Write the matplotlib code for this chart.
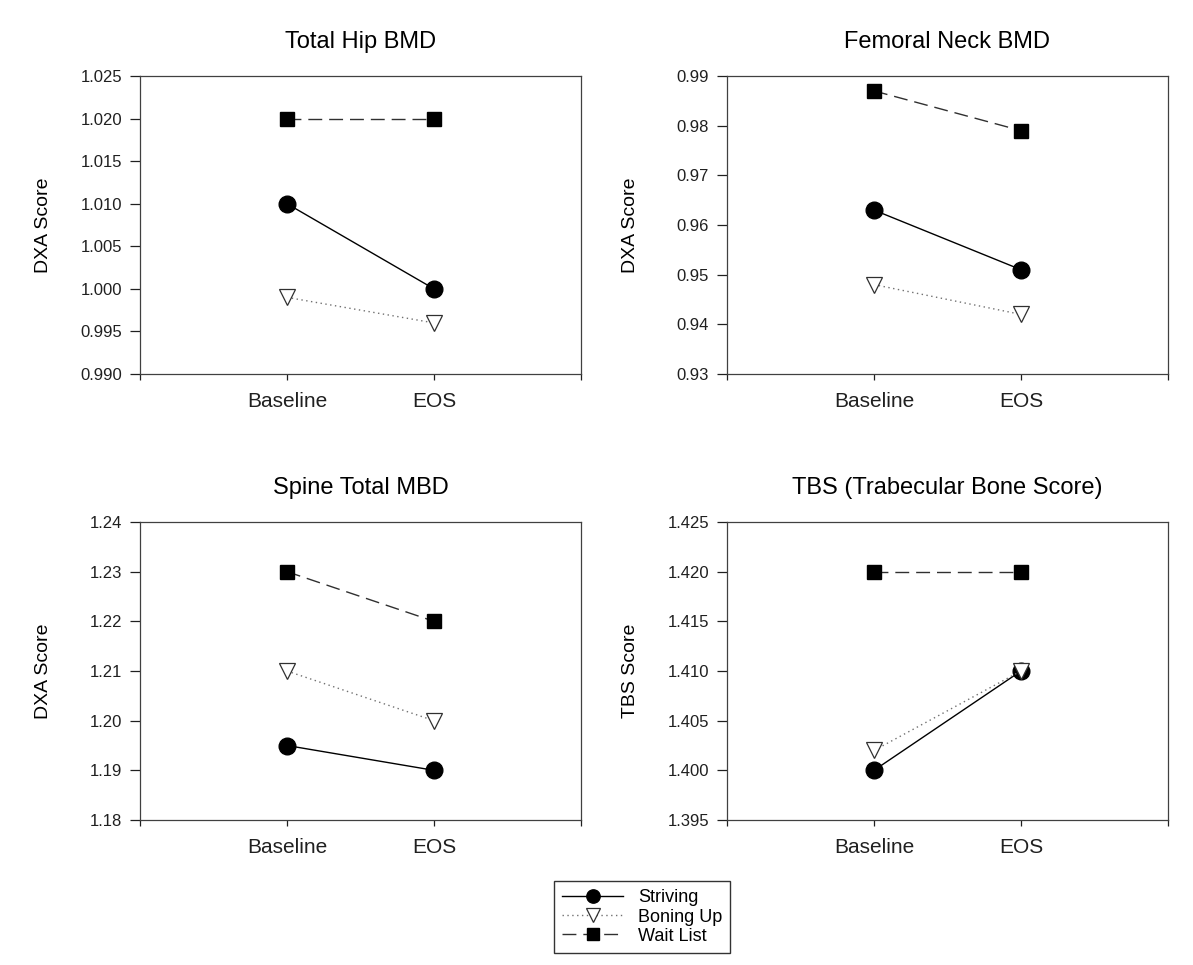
import matplotlib
matplotlib.use("Agg")
import matplotlib.pyplot as plt
from matplotlib.ticker import FixedLocator

plt.rcParams['font.family'] = ['Liberation Sans', 'DejaVu Sans']

timepoints = ["Baseline", "EOS"]
groups = ["Striving", "Boning Up", "Wait List"]

titles = ["Total Hip BMD", "Femoral Neck BMD", "Spine Total MBD", "TBS (Trabecular Bone Score)"]
ylabels = ["DXA Score", "DXA Score", "DXA Score", "TBS Score"]

striving = [[1.010, 1.000], [0.963, 0.951], [1.195, 1.190], [1.400, 1.410]]
boning_up = [[0.999, 0.996], [0.948, 0.942], [1.210, 1.200], [1.402, 1.410]]
wait_list = [[1.020, 1.020], [0.987, 0.979], [1.230, 1.220], [1.420, 1.420]]

yticks = [
    [0.990, 0.995, 1.000, 1.005, 1.010, 1.015, 1.020, 1.025],
    [0.93, 0.94, 0.95, 0.96, 0.97, 0.98, 0.99],
    [1.18, 1.19, 1.20, 1.21, 1.22, 1.23, 1.24],
    [1.395, 1.400, 1.405, 1.410, 1.415, 1.420, 1.425],
]
ytick_fmt = ["%.3f", "%.2f", "%.2f", "%.3f"]

fig = plt.figure(figsize=(11.93, 9.65), dpi=100)
W, H = 1193, 965
lefts = [140, 727]
tops = [76, 522]
aw, ah = 441, 298

styles = {
    "Striving": dict(color="black", ls="-", lw=1.0, marker="o", ms=12,
                     mfc="black", mec="black"),
    "Boning Up": dict(color="#707070", ls=(0, (1, 2.5)), lw=1.0, marker="v", ms=12,
                      mfc="white", mec="#303030", mew=0.9),
    "Wait List": dict(color="#303030", ls=(0, (10, 5)), lw=1.0, marker="s", ms=10.5,
                      mfc="black", mec="black"),
}

x = [1, 2]
axes = []
for i in range(4):
    r, c = divmod(i, 2)
    l = lefts[c]
    t = tops[r]
    ax = fig.add_axes([l / W, 1 - (t + ah) / H, aw / W, ah / H])
    axes.append(ax)
    series = {"Striving": striving[i], "Boning Up": boning_up[i], "Wait List": wait_list[i]}
    order_draw = ["Wait List", "Boning Up", "Striving"] if i != 3 else ["Wait List", "Striving", "Boning Up"]
    for g in order_draw:
        ax.plot(x, series[g], label=g, **styles[g])
    ax.set_xlim(0, 3)
    ax.set_ylim(yticks[i][0], yticks[i][-1])
    ax.yaxis.set_major_locator(FixedLocator(yticks[i]))
    ax.set_yticklabels([ytick_fmt[i] % v for v in yticks[i]])
    ax.set_xticks([0, 1, 2, 3])
    ax.set_xticklabels(["", timepoints[0], timepoints[1], ""])
    ax.tick_params(axis='y', direction='out', length=7, width=0.9, pad=6,
                   labelsize=12, colors='#202020')
    ax.tick_params(axis='x', direction='out', length=4, width=0.9, pad=9,
                   labelsize=15, colors='#202020')
    for s in ax.spines.values():
        s.set_linewidth(0.9)
        s.set_color('#404040')
    ax.set_title(titles[i], fontsize=17, pad=20)
    ax.set_ylabel(ylabels[i], fontsize=14)
    ax.yaxis.set_label_coords(-0.200, 0.5)

handles, labels = axes[0].get_legend_handles_labels()
order = [labels.index(g) for g in groups]
leg = fig.legend([handles[k] for k in order], [labels[k] for k in order],
                 loc='center', bbox_to_anchor=(642 / W, 1 - 917 / H),
                 fontsize=13, handlelength=3.4, handletextpad=0.8,
                 labelspacing=0.12, borderpad=0.45, fancybox=False,
                 frameon=True, edgecolor='black', markerscale=0.8)
leg.get_frame().set_linewidth(1.0)

fig.savefig("out.png", dpi=100, facecolor="white")
